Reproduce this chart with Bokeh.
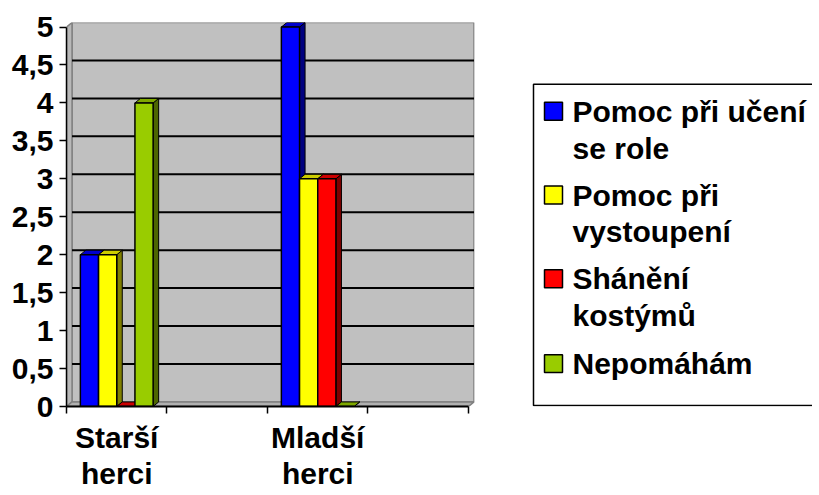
from bokeh.plotting import figure
from bokeh.models import Range1d, FixedTicker
from bokeh.layouts import row
from bokeh.embed import file_html
from bokeh.resources import INLINE
from bokeh.core.properties import value

# ---------------- data ----------------
categories = ["Starší herci", "", "Mladší herci", ""]
series_names = ["Pomoc při učení se role", "Pomoc při vystoupení", "Shánění kostýmů", "Nepomáhám"]
legend_lines = [["Pomoc při učení", "se role"], ["Pomoc při", "vystoupení"], ["Shánění", "kostýmů"], ["Nepomáhám"]]
pomoc_uceni = [2, None, 5, None]
pomoc_vystoupeni = [2, None, 3, None]
shaneni_kostymu = [0, None, 3, None]
nepomaham = [4, None, 0, None]
y_ticks = [0, 0.5, 1, 1.5, 2, 2.5, 3, 3.5, 4, 4.5, 5]
y_tick_labels = ["0", "0,5", "1", "1,5", "2", "2,5", "3", "3,5", "4", "4,5", "5"]

series = [pomoc_uceni, pomoc_vystoupeni, shaneni_kostymu, nepomaham]
front_colors = ["#0000FF", "#FFFF00", "#FF0000", "#99CC00"]
top_colors = ["#0000CC", "#CCCC00", "#CC0000", "#7FA800"]
side_colors = ["#000080", "#808000", "#800000", "#4D6600"]

FONT_NAME = "Liberation Sans"
FONT = value(FONT_NAME)
FS = "30px"

# geometry (3D depth effect, bar layout)
DX, DY = 0.055, 0.06
GAP, BW = 0.138, 0.181
NCAT = len(categories)
YMAX = 5

W, H = 527, 492
TOP, BOTTOM = 22, 85
p = figure(width=W, height=H, output_backend="svg", toolbar_location=None,
           x_range=Range1d(0, NCAT + 0.06), y_range=Range1d(0, YMAX + 0.06),
           min_border_left=66, min_border_right=53, min_border_top=TOP, min_border_bottom=BOTTOM,
           background_fill_color="white", border_fill_color="white")
p.outline_line_color = None
p.xgrid.visible = False
p.ygrid.visible = False

WALL = "#C0C0C0"
EDGE = "#808080"
# back wall
p.quad(left=[DX], right=[NCAT + DX], bottom=[DY], top=[YMAX + DY],
       fill_color=WALL, line_color=EDGE, line_width=1.5)
# left wall
p.patch([0, DX, DX, 0], [0, DY, YMAX + DY, YMAX], fill_color="#B8B8B8", line_color=EDGE, line_width=1.5)
# floor
p.patch([0, NCAT, NCAT + DX, DX], [0, 0, DY, DY], fill_color="#B0B0B0", line_color=EDGE, line_width=1.5)
# gridlines on back wall
gy = [t + DY for t in y_ticks if 0 < t < YMAX]
p.segment(x0=[DX] * len(gy), y0=gy, x1=[NCAT + DX] * len(gy), y1=gy, line_color="black", line_width=2)

# bars
for i in range(NCAT):
    for s, vals in enumerate(series):
        v = vals[i]
        if v is None:
            continue
        l = i + GAP + s * BW
        r = l + BW
        p.patch([r, r + DX, r + DX, r], [0, DY, v + DY, v],
                fill_color=side_colors[s], line_color="black", line_width=1)
        p.patch([l, r, r + DX, l + DX], [v, v, v + DY, v + DY],
                fill_color=top_colors[s], line_color="black", line_width=1)
        p.quad(left=[l], right=[r], bottom=[0], top=[v],
               fill_color=front_colors[s], line_color="black", line_width=1.5)

# y axis
p.yaxis.ticker = FixedTicker(ticks=y_ticks, minor_ticks=[])
p.yaxis.major_label_overrides = {t: lab for t, lab in zip(y_ticks, y_tick_labels)}
p.yaxis.bounds = (0, YMAX)
p.yaxis.major_tick_in = 0
p.yaxis.major_tick_out = 7
p.yaxis.major_label_standoff = 6
p.yaxis.minor_tick_line_color = None
p.yaxis.axis_line_width = 1.5
p.yaxis.major_tick_line_width = 1.5
p.yaxis.major_label_text_font = FONT_NAME
p.yaxis.major_label_text_font_style = "bold"
p.yaxis.major_label_text_font_size = FS
p.yaxis.major_label_text_color = "black"

# x axis: labels at category centres, tick marks at category boundaries
centres = [i + 0.5 for i in range(NCAT)]
p.xaxis.ticker = FixedTicker(ticks=centres, minor_ticks=list(range(NCAT + 1)))
p.xaxis.major_label_overrides = {c: lab.replace(" ", "\n") for c, lab in zip(centres, categories)}
p.xaxis.bounds = (0, NCAT)
p.xaxis.major_tick_in = 0
p.xaxis.major_tick_out = 0
p.xaxis.major_tick_line_color = None
p.xaxis.minor_tick_in = 0
p.xaxis.minor_tick_out = 7
p.xaxis.minor_tick_line_color = "black"
p.xaxis.minor_tick_line_width = 1.5
p.xaxis.axis_line_width = 2
p.xaxis.major_label_standoff = 7
p.xaxis.major_label_text_font = FONT_NAME
p.xaxis.major_label_text_font_style = "bold"
p.xaxis.major_label_text_font_size = FS
p.xaxis.major_label_text_line_height = 1.1
p.xaxis.major_label_text_color = "black"

# ---------------- legend figure (frame aligned with main plot: data y == pixel y) ----------------
LW = 285
lg = figure(width=LW, height=H, output_backend="svg", toolbar_location=None,
            x_range=Range1d(0, LW), y_range=Range1d(H - BOTTOM, TOP),
            min_border_left=0, min_border_right=0, min_border_top=TOP, min_border_bottom=BOTTOM,
            background_fill_color="white", border_fill_color="white")
lg.outline_line_color = None
lg.axis.visible = False
lg.xgrid.visible = False
lg.ygrid.visible = False
lg.quad(left=[6], right=[LW + 20], top=[84], bottom=[H - BOTTOM - 1], fill_color=None,
        line_color="black", line_width=1.5)

entry_centres = [111, 195, 279, 364]
tx, ty, tt = [], [], []
for s, lines in enumerate(legend_lines):
    yc = entry_centres[s]
    lg.quad(left=[17], right=[35], top=[yc - 9], bottom=[yc + 9],
            fill_color=front_colors[s], line_color="black", line_width=1.5)
    for k, line in enumerate(lines):
        tx.append(45)
        ty.append(yc + k * 37)
        tt.append(line)
lg.text(x=tx, y=ty, text=tt, text_font=FONT, text_font_style="bold", text_font_size=FS,
        text_baseline="middle", text_align="left", text_color="black")

layout = row(p, lg)
open("out.html", "w").write(file_html(layout, INLINE))
